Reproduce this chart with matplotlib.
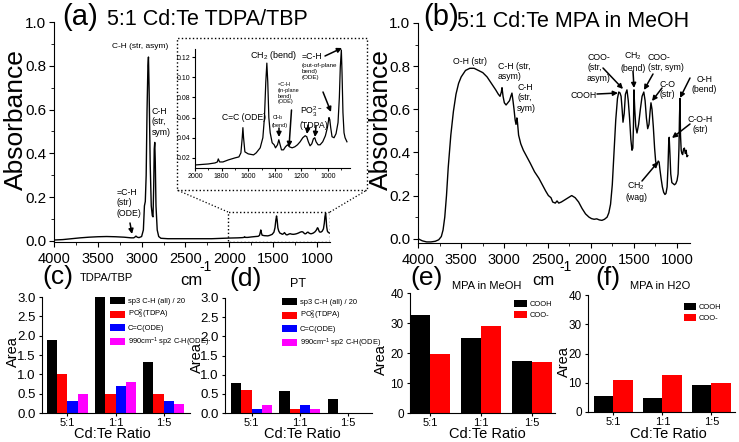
import matplotlib
matplotlib.use("Agg")
import matplotlib.pyplot as plt
from matplotlib.ticker import MultipleLocator, FormatStrFormatter
from matplotlib.patches import Rectangle
from matplotlib.lines import Line2D
import numpy as np

plt.rcParams['font.family'] = ['Liberation Sans', 'DejaVu Sans']
plt.rcParams['mathtext.fontset'] = 'custom'
plt.rcParams['mathtext.rm'] = 'Liberation Sans'
plt.rcParams['mathtext.it'] = 'Liberation Sans:italic'
plt.rcParams['mathtext.bf'] = 'Liberation Sans:bold'

# ---- spectrum (a): 5:1 Cd:Te TDPA/TBP ----
tdpa_wn = [4000, 3900, 3800, 3700, 3600, 3500, 3400, 3300, 3200, 3120, 3090, 3075, 3065, 3050, 3030,
           3000, 2980, 2968, 2958, 2948, 2938, 2928, 2922, 2915, 2902, 2890, 2878, 2870, 2862, 2856,
           2850, 2844, 2836, 2822, 2805, 2780, 2700, 2600, 2400, 2200, 2000, 1900, 1850, 1832, 1825,
           1815, 1790, 1750, 1700, 1670, 1655, 1645, 1640, 1635, 1625, 1600, 1560, 1540, 1510, 1490,
           1478, 1468, 1460, 1453, 1445, 1435, 1420, 1405, 1395, 1380, 1370, 1362, 1350, 1335, 1320,
           1305, 1290, 1270, 1250, 1230, 1210, 1190, 1172, 1160, 1148, 1135, 1122, 1110, 1100, 1090,
           1075, 1060, 1040, 1020, 1005, 993, 987, 980, 970, 955, 940, 925, 915, 908, 900, 895,
           888, 880, 872, 865, 858]
tdpa_abs = [0.004, 0.006, 0.010, 0.014, 0.017, 0.019, 0.020, 0.019, 0.017, 0.014, 0.014, 0.018, 0.022, 0.017, 0.015,
            0.020, 0.050, 0.160, 0.180, 0.300, 0.600, 0.800, 0.840, 0.700, 0.350, 0.160, 0.115, 0.110, 0.250, 0.420,
            0.450, 0.360, 0.160, 0.050, 0.020, 0.012, 0.010, 0.010, 0.010, 0.010, 0.013, 0.014, 0.015, 0.016, 0.019,
            0.016, 0.016, 0.018, 0.020, 0.021, 0.025, 0.040, 0.050, 0.040, 0.026, 0.024, 0.023, 0.025, 0.030, 0.040,
            0.060, 0.095, 0.114, 0.095, 0.060, 0.045, 0.035, 0.033, 0.030, 0.033, 0.038, 0.034, 0.028, 0.028, 0.031,
            0.033, 0.031, 0.030, 0.031, 0.033, 0.036, 0.040, 0.042, 0.041, 0.036, 0.032, 0.034, 0.039, 0.040, 0.036,
            0.033, 0.033, 0.036, 0.042, 0.050, 0.060, 0.058, 0.050, 0.041, 0.040, 0.044, 0.055, 0.080, 0.110, 0.127, 0.105,
            0.065, 0.045, 0.040, 0.038, 0.036]

# ---- spectrum (b): 5:1 Cd:Te MPA in MeOH ----
mpa_wn = [4000, 3950, 3900, 3850, 3800, 3760, 3730, 3710, 3690, 3670, 3650, 3620, 3590, 3560, 3530,
          3500, 3450, 3400, 3350, 3300, 3250, 3200, 3150, 3100, 3070, 3050, 3035, 3027, 3015, 3000,
          2980, 2960, 2940, 2925, 2912, 2900, 2888, 2875, 2865, 2855, 2848, 2835, 2810, 2780, 2740,
          2700, 2650, 2600, 2560, 2520, 2490, 2460, 2440, 2410, 2390, 2370, 2340, 2300, 2260, 2220,
          2180, 2140, 2100, 2060, 2020, 1990, 1960, 1930, 1900, 1870, 1840, 1810, 1790, 1770, 1750,
          1730, 1710, 1690, 1675, 1661, 1648, 1636, 1626, 1612, 1598, 1580, 1565, 1550, 1535, 1522,
          1512, 1505, 1499, 1490, 1478, 1464, 1445, 1425, 1405, 1385, 1370, 1355, 1340, 1325, 1312,
          1302, 1290, 1275, 1260, 1248, 1238, 1228, 1218, 1208, 1198, 1185, 1170, 1155, 1140, 1128,
          1115, 1105, 1097, 1091, 1083, 1073, 1060, 1045, 1030, 1015, 1000, 988, 978, 972, 966,
          960, 952, 944, 935, 925, 915, 905, 895, 885, 875]
mpa_abs = [0.000, -0.010, -0.015, -0.015, -0.012, -0.005, 0.010, 0.040, 0.100, 0.200, 0.330, 0.480, 0.590, 0.670, 0.720,
           0.750, 0.780, 0.790, 0.790, 0.780, 0.770, 0.750, 0.720, 0.690, 0.670, 0.660, 0.680, 0.700, 0.660, 0.630,
           0.620, 0.630, 0.640, 0.660, 0.675, 0.640, 0.600, 0.550, 0.530, 0.560, 0.540, 0.480, 0.440, 0.410, 0.380,
           0.350, 0.310, 0.280, 0.250, 0.220, 0.200, 0.190, 0.170, 0.165, 0.175, 0.165, 0.170, 0.180, 0.190, 0.200,
           0.190, 0.170, 0.140, 0.115, 0.100, 0.093, 0.090, 0.092, 0.087, 0.085, 0.090, 0.100, 0.120, 0.160, 0.250,
           0.400, 0.550, 0.650, 0.680, 0.676, 0.660, 0.600, 0.540, 0.580, 0.670, 0.690, 0.640, 0.560, 0.460, 0.410,
           0.420, 0.520, 0.690, 0.600, 0.520, 0.490, 0.530, 0.600, 0.660, 0.680, 0.640, 0.560, 0.510, 0.530, 0.590,
           0.630, 0.600, 0.520, 0.420, 0.360, 0.340, 0.350, 0.360, 0.355, 0.320, 0.280, 0.240, 0.215, 0.205, 0.210,
           0.240, 0.330, 0.440, 0.470, 0.400, 0.300, 0.260, 0.255, 0.250, 0.255, 0.270, 0.300, 0.420, 0.560, 0.650,
           0.480, 0.410, 0.395, 0.390, 0.415, 0.420, 0.395, 0.410, 0.380, 0.385]

# ---- bar charts ----
ratios = ['5:1', '1:1', '1:5']
tdpa_labels = ['sp3 C-H (all) / 20', r'PO$_3^2$(TDPA)', 'C=C(ODE)', r'990cm$^{-1}$ sp2 C-H(ODE)']
tdpa_colors = ['black', '#ff0000', '#0000ff', '#ff00ff']
c_sp3 = [1.88, 3.0, 1.32]
c_po3 = [1.0, 0.5, 0.5]
c_cc = [0.3, 0.7, 0.3]
c_990 = [0.5, 0.8, 0.22]
d_sp3 = [0.78, 0.58, 0.36]
d_po3 = [0.6, 0.1, 0.0]
d_cc = [0.1, 0.2, 0.0]
d_990 = [0.2, 0.1, 0.0]
mpa_labels = ['COOH', 'COO-']
mpa_colors = ['black', '#ff0000']
e_cooh = [32.8, 25.0, 17.2]
e_coo = [19.7, 29.0, 16.9]
f_cooh = [5.3, 4.7, 9.3]
f_coo = [11.1, 12.8, 10.0]

W, H = 739, 442


def fp(x, y):
    # pixel position in the figure -> figure fraction
    return (x / W, 1 - y / H)


def rect(l, r, t, b):
    return [l / W, 1 - b / H, (r - l) / W, (b - t) / H]


fig = plt.figure(figsize=(W / 100, H / 100), dpi=100)


def style_axes(ax, xsize, ysize, length=3.5):
    for s in ['top', 'right']:
        ax.spines[s].set_visible(False)
    ax.tick_params(direction='out', length=length, width=0.8)
    ax.tick_params(axis='x', labelsize=xsize)
    ax.tick_params(axis='y', labelsize=ysize)
    ax.tick_params(which='minor', direction='out', length=length * 0.55, width=0.6)


def txt(x, y, s, size=6, ha='left', va='top', ma='left', rot=0):
    fig.text(*fp(x, y), s, fontsize=size, ha=ha, va=va, multialignment=ma, rotation=rot)


def arrow(x0, y0, x1, y1):
    fig.add_artist(matplotlib.text.Annotation('', xy=fp(x1, y1), xycoords='figure fraction',
                                              xytext=fp(x0, y0), textcoords='figure fraction',
                                              arrowprops=dict(arrowstyle='-|>', color='k', lw=1.1,
                                                              mutation_scale=7, shrinkA=0, shrinkB=0)))


# ---------------- (a) ----------------
ax_a = fig.add_axes(rect(54, 330, 22, 242))
ax_a.plot(tdpa_wn, tdpa_abs, color='k', lw=1.0)
ax_a.set_xlim(4000, 850)
ax_a.set_ylim(-0.005, 1.0)
ax_a.set_xticks([4000, 3500, 3000, 2500, 2000, 1500, 1000])
ax_a.xaxis.set_minor_locator(MultipleLocator(250))
ax_a.set_yticks(np.arange(0, 1.01, 0.2))
ax_a.yaxis.set_minor_locator(MultipleLocator(0.1))
ax_a.yaxis.set_major_formatter(FormatStrFormatter('%.1f'))
style_axes(ax_a, 10.5, 11)
ax_a.tick_params(axis='y', pad=2)
txt(16, 120, 'Absorbance', 19, ha='center', va='center', rot=90)
ax_a.add_patch(Rectangle((850, -0.004), 1160, 0.136, fill=False, ls=':', lw=1.0, ec='k'))

# inset
ax_in = fig.add_axes(rect(195, 350, 49, 168))
ax_in.plot(tdpa_wn, tdpa_abs, color='k', lw=0.9)
ax_in.set_xlim(2000, 835)
ax_in.set_ylim(0.01, 0.128)
ax_in.set_xticks(np.arange(2000, 999, -200))
ax_in.xaxis.set_minor_locator(MultipleLocator(100))
ax_in.set_yticks(np.arange(0.02, 0.121, 0.02))
ax_in.yaxis.set_major_formatter(FormatStrFormatter('%.2f'))
style_axes(ax_in, 5, 5, length=2)
ax_in.tick_params(pad=1.5)
ax_in.patch.set_alpha(0)

fig.add_artist(Rectangle(fp(177, 190), 190 / W, 152 / H, transform=fig.transFigure,
                         fill=False, ls=':', lw=1.0, ec='k'))
for (x0, y0), (x1, y1) in [((228, 212), (177, 190)), ((330, 212), (367, 190))]:
    fig.add_artist(Line2D([x0 / W, x1 / W], [1 - y0 / H, 1 - y1 / H], transform=fig.transFigure,
                          ls=':', lw=0.9, color='k'))

# (a) annotations
txt(140, 47, 'C-H (str, asym)', 6, ha='center', va='center')
txt(152, 107, 'C-H\n(str,\nsym)', 6.3)
txt(117, 188, '=C-H\n(str)\n(ODE)', 6.3)
arrow(130, 223, 132, 234)
txt(250, 55, r'CH$_2$ (bend)', 6.5, va='center')
txt(222, 117, 'C=C (ODE)', 6.2, va='center')
txt(278, 82, '=C-H\n(in-plane\nbend)\n(ODE)', 4.0)
arrow(291.5, 110, 289, 147)
txt(272, 113, 'CH$_3$\n(bend)', 4.0)
arrow(279, 128, 279, 137)
txt(300, 105, 'PO$_3^{2-}$\n(TDPA)', 6.3)
arrow(308, 125, 307, 134)
arrow(316, 126, 315, 137)
txt(302, 52, '=C-H', 6.3)
txt(302, 63, '(out-of-plane\nbend)\n(ODE)', 4.5)
arrow(325, 56, 342, 48)
arrow(323, 92, 331, 112)

# titles top
fig.text(*fp(62, 17), '(a)', fontsize=21, ha='left', va='center')
fig.text(*fp(107, 25), '5:1 Cd:Te TDPA/TBP', fontsize=15.5, ha='left', va='baseline')
fig.text(*fp(423, 17), '(b)', fontsize=21, ha='left', va='center')
fig.text(*fp(457, 27), '5:1 Cd:Te MPA in MeOH', fontsize=15.5, ha='left', va='baseline')
fig.text(*fp(180, 285), 'cm', fontsize=12, ha='left', va='baseline')
fig.text(*fp(199, 271), '-1', fontsize=10, ha='left', va='baseline')
fig.text(*fp(532, 285), 'cm', fontsize=12, ha='left', va='baseline')
fig.text(*fp(559, 271), '-1', fontsize=10, ha='left', va='baseline')

# ---------------- (b) ----------------
ax_b = fig.add_axes(rect(418, 690, 23, 243))
ax_b.plot(mpa_wn, mpa_abs, color='k', lw=1.0)
ax_b.set_xlim(4000, 850)
ax_b.set_ylim(-0.02, 1.0)
ax_b.set_xticks([4000, 3500, 3000, 2500, 2000, 1500, 1000])
ax_b.xaxis.set_minor_locator(MultipleLocator(250))
ax_b.set_yticks(np.arange(0, 1.01, 0.2))
ax_b.yaxis.set_minor_locator(MultipleLocator(0.1))
ax_b.yaxis.set_major_formatter(FormatStrFormatter('%.1f'))
style_axes(ax_b, 10.5, 11)
ax_b.tick_params(axis='y', pad=2)
txt(381, 120, 'Absorbance', 19, ha='center', va='center', rot=90)

txt(470, 61, 'O-H (str)', 6.3, ha='center', va='center')
txt(498, 62, 'C-H (str,\nasym)', 6.3)
txt(517, 83, 'C-H\n(str,\nsym)', 6.3)
txt(587, 53, 'COO-\n(str,\nasym)', 6.3)
arrow(603, 68, 623, 89)
txt(633, 51, 'CH$_2$\n(bend)', 6.3, ha='center', ma='center')
arrow(633, 71, 634, 88)
txt(648, 53, 'COO-\n(str, sym)', 6.3)
arrow(653, 74, 644, 90)
txt(597, 95, 'COOH', 6.3, ha='right', va='center')
arrow(597, 94, 618, 93)
txt(660, 80, 'C-O\n(str)', 6.3)
arrow(662, 88, 652, 101)
txt(692, 75, 'O-H\n(bend)', 6.3, ma='center')
arrow(690, 78, 680, 98)
txt(700, 115, 'C-O-H\n(str)', 6.3, ha='center', ma='center')
arrow(690, 124, 672, 138)
txt(636, 180, 'CH$_2$\n(wag)', 6.3, ha='center', ma='center')
arrow(642, 181, 658, 162)


# ---------------- bar charts ----------------
def bar_panel(box, series, colors, labels, width, xlim, ylim, yticks, yfmt, leg_xy, hl, ylabsize,
              area_xy, ratio_x):
    ax = fig.add_axes(rect(*box))
    x = np.arange(1, len(ratios) + 1)
    n = len(series)
    for i, (vals, col, lab) in enumerate(zip(series, colors, labels)):
        ax.bar(x + (i - (n - 1) / 2) * width, vals, width, color=col, label=lab, lw=0)
    ax.set_xlim(*xlim)
    ax.set_ylim(*ylim)
    ax.set_xticks(x)
    ax.set_xticklabels(ratios)
    ax.set_yticks(yticks)
    ax.yaxis.set_major_formatter(FormatStrFormatter(yfmt))
    style_axes(ax, 8, ylabsize, length=2.5)
    ax.tick_params(axis='x', pad=1)
    ax.tick_params(axis='y', pad=2)
    txt(ratio_x, 434, 'Cd:Te Ratio', 10.5, ha='center', va='center')
    txt(area_xy[0], area_xy[1], 'Area', 10.5, ha='center', va='center', rot=90)
    ax.legend(loc='upper left', bbox_to_anchor=leg_xy, frameon=False, fontsize=5.4,
              handlelength=hl, handleheight=1.05, handletextpad=0.35, labelspacing=0.4,
              borderpad=0, borderaxespad=0)
    return ax


bar_panel((42, 190, 297, 413), [c_sp3, c_po3, c_cc, c_990], tdpa_colors, tdpa_labels, 0.21,
          (0.47, 3.55), (0, 3.0), np.arange(0, 3.01, 0.5), '%.1f', (0.46, 1.0), 2.0, 9.5,
          (13, 352), 112)
bar_panel((225, 372, 298, 413), [d_sp3, d_po3, d_cc, d_990], tdpa_colors, tdpa_labels, 0.21,
          (0.45, 3.5), (0, 3.0), np.arange(0, 3.01, 0.5), '%.1f', (0.39, 1.0), 2.0, 9.5,
          (197, 358), 302)
bar_panel((410, 555, 293, 413), [e_cooh, e_coo], mpa_colors, mpa_labels, 0.39,
          (0.6, 3.45), (0, 40), np.arange(0, 41, 10), '%d', (0.72, 0.94), 1.7, 8.5,
          (381, 360), 487)
bar_panel((588, 735, 295, 412), [f_cooh, f_coo], mpa_colors, mpa_labels, 0.39,
          (0.48, 3.48), (0, 40), np.arange(0, 41, 10), '%d', (0.65, 0.93), 1.7, 8.5,
          (564, 362), 668)

fig.text(*fp(42, 277), '(c)', fontsize=19, ha='left', va='center')
fig.text(*fp(80, 278), 'TDPA/TBP', fontsize=8, ha='left', va='center')
fig.text(*fp(229, 279), '(d)', fontsize=19, ha='left', va='center')
fig.text(*fp(290, 284), 'PT', fontsize=9, ha='left', va='center')
fig.text(*fp(410, 278), '(e)', fontsize=19, ha='left', va='center')
fig.text(*fp(452, 286), 'MPA in MeOH', fontsize=8, ha='left', va='center')
fig.text(*fp(595, 278), '(f)', fontsize=19, ha='left', va='center')
fig.text(*fp(630, 286), 'MPA in H2O', fontsize=8, ha='left', va='center')

fig.savefig('out.png', dpi=100)
